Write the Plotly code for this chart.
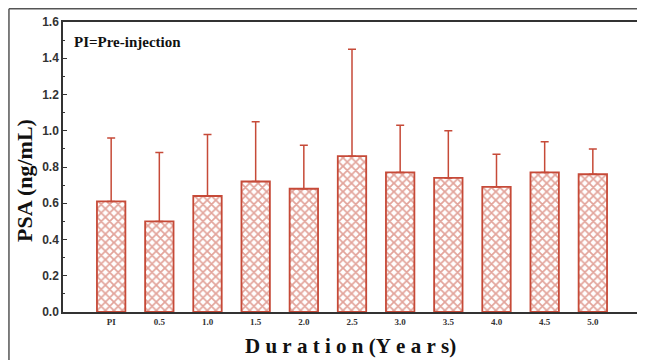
import plotly.graph_objects as go

categories = ["PI", "0.5", "1.0", "1.5", "2.0", "2.5", "3.0", "3.5", "4.0", "4.5", "5.0"]
psa_mean = [0.61, 0.50, 0.64, 0.72, 0.68, 0.86, 0.77, 0.74, 0.69, 0.77, 0.76]
psa_sd = [0.35, 0.38, 0.34, 0.33, 0.24, 0.59, 0.26, 0.26, 0.18, 0.17, 0.14]
y_ticks = [0.0, 0.2, 0.4, 0.6, 0.8, 1.0, 1.2, 1.4, 1.6]

RED = "#c64a38"
NB = "\u00a0"

def spaced(word, gap=1):
    return (NB * gap).join(word)

x_title = spaced("Duration") + NB + "(" + spaced("Years") + ")"

fig = go.Figure()
fig.add_trace(go.Bar(
    x=categories, y=psa_mean,
    width=0.59,
    marker=dict(
        color="white",
        line=dict(color=RED, width=1.8),
        pattern=dict(shape="x", fgcolor=RED, bgcolor="white", size=6, solidity=0.5),
    ),
    error_y=dict(type="data", array=psa_sd, symmetric=False, arrayminus=[0]*len(psa_sd),
                 color=RED, thickness=1.5, width=4),
))

# the page body has an 8px margin, so the figure is drawn 8px smaller and shifted
fig.update_layout(
    width=637, height=352,
    margin=dict(l=55, r=4, t=14, b=48),
    plot_bgcolor="white", paper_bgcolor="white",
    showlegend=False,
)
fig.update_xaxes(
    type="category", range=[-1, 11], automargin=False,
    showline=True, linecolor="#333", linewidth=1.5, mirror=True,
    ticks="", showgrid=False,
    tickprefix="<b>", ticksuffix="</b>",
    tickfont=dict(family="Liberation Serif", size=9, color="#333"),
)
fig.update_yaxes(
    range=[0, 1.6], tickvals=y_ticks, ticktext=[f"<b>{v:.1f}</b>" for v in y_ticks],
    automargin=False,
    showline=True, linecolor="#333", linewidth=1.5, mirror=True,
    ticks="inside", ticklen=4, tickcolor="#333",
    minor=dict(ticks="inside", ticklen=2, dtick=0.1, tickcolor="#333"),
    showgrid=False, zeroline=False,
    tickfont=dict(family="Liberation Sans", size=12, color="#333"),
)
fig.add_annotation(
    text="<b>" + x_title + "</b>", xref="paper", yref="paper",
    x=0.498, y=-0.117, xanchor="center", yanchor="middle", showarrow=False,
    font=dict(family="Liberation Serif", size=21, color="#111"),
)
fig.add_annotation(
    text="<b>PSA (ng/mL)</b>", xref="paper", yref="paper", textangle=-90,
    x=-0.0657, y=0.452, xanchor="center", yanchor="middle", showarrow=False,
    font=dict(family="Liberation Serif", size=22, color="#111"),
)
fig.add_annotation(
    text="<b>PI=Pre-injection</b>", xref="paper", yref="paper",
    x=0.015, y=0.965, xanchor="left", yanchor="top", showarrow=False,
    font=dict(family="Liberation Serif", size=15, color="#111"),
)
# outer frame lines (top and left)
fig.add_shape(type="line", xref="paper", yref="paper", x0=-0.0935, x1=1.01, y0=1.046, y1=1.046,
              line=dict(color="#555", width=1.5))
fig.add_shape(type="line", xref="paper", yref="paper", x0=-0.0935, x1=-0.0935, y0=1.046, y1=-0.17,
              line=dict(color="#555", width=1.5))

fig.write_html("out.html")
